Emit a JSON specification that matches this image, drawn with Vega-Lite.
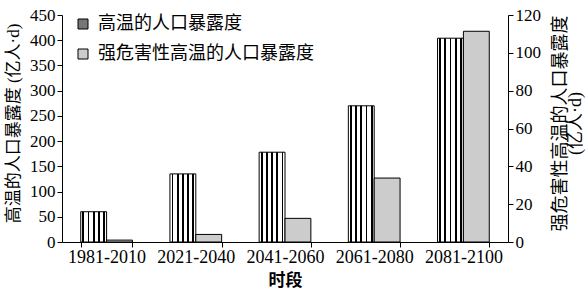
{
  "$schema": "https://vega.github.io/schema/vega-lite/v6.json",
  "autosize": {"type": "none"},
  "width": 446,
  "height": 227,
  "padding": {"left": 62, "top": 15, "right": 78, "bottom": 47},
  "background": "white",
  "config": {
    "view": {"stroke": null},
    "axis": {
      "domainColor": "black",
      "tickColor": "black",
      "labelColor": "black",
      "titleColor": "black",
      "grid": false,
      "labelFont": "Liberation Serif",
      "titleFont": "Liberation Serif, Noto Sans CJK SC",
      "labelFontSize": 17,
      "titleFontSize": 17,
      "titleFontWeight": "normal",
      "tickSize": 5,
      "labelPadding": 2
    }
  },
  "data": {
    "values": [
      {"period": "1981-2010", "series": "高温的人口暴露度", "value": 60},
      {"period": "2021-2040", "series": "高温的人口暴露度", "value": 135},
      {"period": "2041-2060", "series": "高温的人口暴露度", "value": 178},
      {"period": "2061-2080", "series": "高温的人口暴露度", "value": 270},
      {"period": "2081-2100", "series": "高温的人口暴露度", "value": 404},
      {"period": "1981-2010", "series": "强危害性高温的人口暴露度", "value": 1},
      {"period": "2021-2040", "series": "强危害性高温的人口暴露度", "value": 4},
      {"period": "2041-2060", "series": "强危害性高温的人口暴露度", "value": 12.5},
      {"period": "2061-2080", "series": "强危害性高温的人口暴露度", "value": 33.8},
      {"period": "2081-2100", "series": "强危害性高温的人口暴露度", "value": 111.4}
    ]
  },
  "encoding": {
    "x": {
      "field": "period",
      "type": "nominal",
      "sort": null,
      "scale": {"paddingInner": 0.42, "paddingOuter": 0.21},
      "axis": {
        "labelAngle": 0,
        "labelFontSize": 18,
        "labelPadding": 1,
        "tickBand": "extent",
        "title": "时段",
        "titleFontWeight": "bold",
        "titleFontSize": 17,
        "titleFont": "Noto Sans CJK SC",
        "titleBaseline": "middle",
        "titleY": 38
      }
    },
    "xOffset": {
      "field": "series",
      "type": "nominal",
      "scale": {"domain": ["高温的人口暴露度", "强危害性高温的人口暴露度"], "paddingInner": 0, "paddingOuter": 0}
    }
  },
  "layer": [
    {
      "transform": [{"filter": "datum.series === '高温的人口暴露度'"}],
      "mark": {
        "type": "bar", "stroke": "black", "strokeWidth": 1, "opacity": 1,
        "fill": {
          "gradient": "linear", "x1": 0, "y1": 0, "x2": 1, "y2": 0,
          "stops": [
            {"offset": 0, "color": "white"},
            {"offset": 0.065, "color": "white"},
            {"offset": 0.065, "color": "black"},
            {"offset": 0.135, "color": "black"},
            {"offset": 0.135, "color": "white"},
            {"offset": 0.265, "color": "white"},
            {"offset": 0.265, "color": "black"},
            {"offset": 0.335, "color": "black"},
            {"offset": 0.335, "color": "white"},
            {"offset": 0.465, "color": "white"},
            {"offset": 0.465, "color": "black"},
            {"offset": 0.535, "color": "black"},
            {"offset": 0.535, "color": "white"},
            {"offset": 0.665, "color": "white"},
            {"offset": 0.665, "color": "black"},
            {"offset": 0.735, "color": "black"},
            {"offset": 0.735, "color": "white"},
            {"offset": 0.865, "color": "white"},
            {"offset": 0.865, "color": "black"},
            {"offset": 0.935, "color": "black"},
            {"offset": 0.935, "color": "white"},
            {"offset": 1, "color": "white"}
          ]
        }
      },
      "encoding": {
        "y": {
          "field": "value",
          "type": "quantitative",
          "scale": {"domain": [0, 450], "nice": false},
          "axis": {
            "orient": "left",
            "values": [0, 50, 100, 150, 200, 250, 300, 350, 400, 450],
            "title": "高温的人口暴露度 (亿人·d)",
            "titleAngle": -90,
            "titleAlign": "center",
            "titleBaseline": "middle",
            "titleX": -49,
            "titleY": 108
          }
        }
      }
    },
    {
      "transform": [{"filter": "datum.series === '强危害性高温的人口暴露度'"}],
      "mark": {"type": "bar", "stroke": "black", "strokeWidth": 1, "opacity": 1},
      "encoding": {
        "y": {
          "field": "value",
          "type": "quantitative",
          "scale": {"domain": [0, 120], "nice": false},
          "axis": {
            "orient": "right",
            "values": [0, 20, 40, 60, 80, 100, 120],
            "title": ["强危害性高温的人口暴露度", "(亿人·d)"],
            "titleFontSize": 18,
            "titleLineHeight": 15,
            "titleAngle": -90,
            "titleAlign": "center",
            "titleBaseline": "middle",
            "titleX": 52,
            "titleY": 108
          }
        },
        "color": {
          "field": "series",
          "type": "nominal",
          "scale": {
            "domain": ["高温的人口暴露度", "强危害性高温的人口暴露度"],
            "range": ["#777777", "#cccccc"]
          },
          "legend": {
            "title": null,
            "orient": "none",
            "legendX": 12,
            "legendY": 0,
            "direction": "vertical",
            "symbolType": "square",
            "symbolSize": 100,
            "symbolStrokeColor": "black",
            "symbolStrokeWidth": 1,
            "symbolOpacity": 1,
            "labelFont": "Noto Sans CJK SC",
            "labelFontSize": 18,
            "labelColor": "black",
            "rowPadding": 12,
            "labelOffset": 6,
            "labelLimit": 400
          }
        }
      }
    }
  ],
  "resolve": {"scale": {"y": "independent"}, "axis": {"y": "independent"}}
}
